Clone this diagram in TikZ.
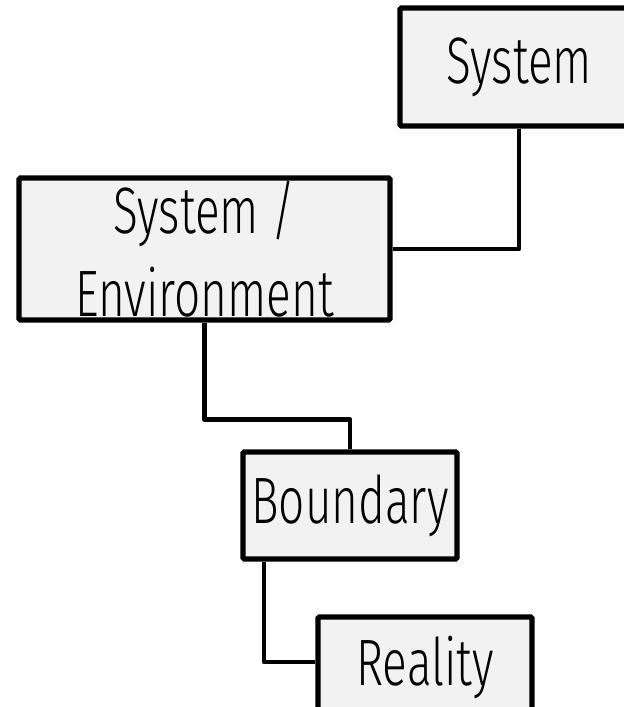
\documentclass[tikz,border=0pt]{standalone}
\usepackage{fontspec}
\setmainfont{Fira Sans Light}[FakeStretch=0.7]
\usetikzlibrary{positioning}
\definecolor{boxgray}{RGB}{242, 242, 242}

\begin{document}
\begin{tikzpicture}[x=0.03cm, y=-0.03cm,
		% Node styles
		level/.style={draw=black, fill=boxgray, line width=4.3pt, rounded corners=1pt,
				inner sep=0pt, font=\fontsize{56}{71}\selectfont, align=center},
		connector/.style={draw=black, line width=3.8pt, line join=round},
	]

	% Page frame
	\useasboundingbox (0,0) rectangle (624,707);
	\clip (0,0) rectangle (624,707);

	% Levels
	\node[level, minimum width=7.14cm, minimum height=3.54cm] (system) at (519,67) {System};
	\node[level, minimum width=11.13cm, minimum height=4.26cm] (sysenv) at (204.5,249) {System /\\Environment};
	\node[level, minimum width=6.42cm, minimum height=3.21cm] (boundary) at (350,505.5) {Boundary};
	\node[level, minimum width=6.42cm, minimum height=3cm] (reality) at (425,667) {Reality};

	% Connections
	\draw[connector] (system.south) |- (sysenv.east);
	\draw[connector] (sysenv.south) -- ++(0,97) -| (boundary.north);
	\draw[connector] ([xshift=-2.58cm]boundary.south) |- ([yshift=0.15cm]reality.west);

\end{tikzpicture}
\end{document}
